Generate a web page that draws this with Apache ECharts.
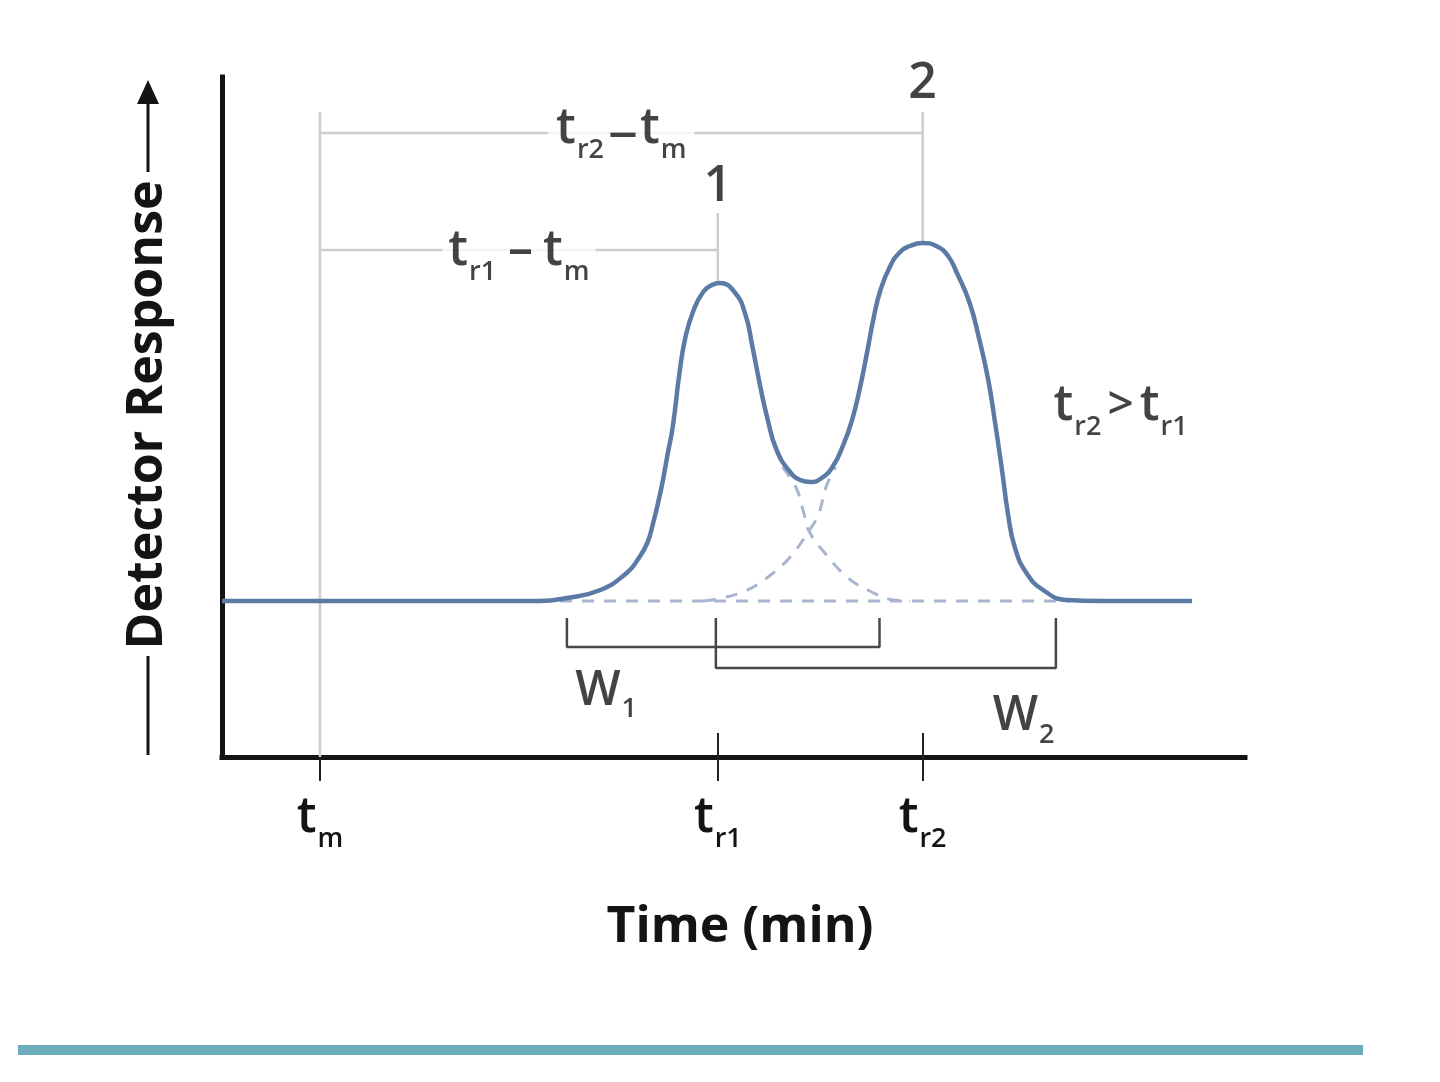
<!DOCTYPE html>
<html>
<head>
<meta charset="utf-8">
<title>Chromatogram</title>
<script src="https://cdn.jsdelivr.net/npm/echarts@6/dist/echarts.min.js"></script>
<style>
  html, body { margin: 0; padding: 0; background: #fff; }
  #chart { width: 1440px; height: 1082px; }
</style>
</head>
<body>
<div id="chart"></div>
<script>
// detector trace (time in min, response in arbitrary units)
const traceTime = [0, 3.24, 3.52, 3.86, 4.13, 4.24, 4.34, 4.40, 4.45, 4.50, 4.55, 4.60, 4.67, 4.73, 4.81, 4.91, 5.00, 5.08, 5.23, 5.34, 5.41, 5.49, 5.57, 5.66, 5.79, 5.90, 6.01, 6.12, 6.23, 6.34, 6.43, 6.51, 6.58, 6.65, 6.72, 6.82, 6.92, 7.02, 7.15, 7.29, 7.41, 7.50, 7.63, 7.73, 7.82, 7.89, 7.96, 8.02, 8.09, 8.21, 8.38, 8.62, 8.96, 9.90];
const traceResponse = [15.6, 15.6, 15.9, 16.7, 18.4, 19.7, 21.4, 23.4, 25.4, 27.7, 30.4, 33.0, 38.5, 42.0, 44.6, 46.5, 47.2, 47.4, 46.5, 44.3, 41.2, 37.2, 33.7, 30.7, 28.6, 27.7, 27.5, 27.9, 29.0, 31.2, 33.7, 36.9, 40.3, 43.9, 46.7, 49.1, 50.5, 51.1, 51.4, 51.1, 50.1, 48.4, 45.4, 41.7, 37.7, 33.4, 28.7, 24.4, 21.0, 18.4, 16.7, 15.7, 15.6, 15.6];

// hidden tails of the two single peaks where they overlap
const peak1TailTime = [5.72, 5.86, 5.94, 5.99, 6.16, 6.39, 6.61, 6.85, 7.02];
const peak1TailResponse = [29.0, 26.9, 24.3, 22.6, 20.3, 17.9, 16.6, 15.7, 15.6];
const peak2TailTime = [4.92, 5.10, 5.34, 5.56, 5.79, 5.99, 6.09, 6.16, 6.26];
const peak2TailResponse = [15.6, 15.9, 16.6, 17.9, 19.9, 22.6, 24.3, 26.9, 29.0];

const baselineLevel = 15.6;
const baselineSpan = [3.45, 8.65];

// tm, tr1, tr2
const markTimes = [1.0, 5.06, 7.15];
const markSubs = ['m', 'r1', 'r2'];
const peakTops = [47.4, 51.4];
const peakNames = ['1', '2'];
const peakWidths = [[3.52, 6.71], [5.04, 8.51]];

const font = "'Open Sans', sans-serif";
const ink = '#141414';

const rich = {
  t: { fontSize: 50, lineHeight: 50, fontWeight: 600, verticalAlign: 'top', fontFamily: font, color: ink },
  s: { fontSize: 27, lineHeight: 27, fontWeight: 600, padding: [33, 0, 0, 1], verticalAlign: 'top', fontFamily: font, color: ink },
  d: { fontSize: 60, lineHeight: 50, fontWeight: 400, verticalAlign: 'top', fontFamily: font, color: ink, padding: [0, 2, 0, 4] },
  ds: { fontSize: 50, lineHeight: 50, fontWeight: 600, verticalAlign: 'top', fontFamily: font, color: ink, padding: [0, 10, 0, 12] },
  g: { fontSize: 46, lineHeight: 50, fontWeight: 600, verticalAlign: 'top', fontFamily: font, color: ink, padding: [2, 6, 0, 6] },
  n: { fontSize: 50, lineHeight: 50, fontWeight: 600, fontFamily: font, color: ink },
  w: { fontSize: 48, lineHeight: 48, fontWeight: 600, verticalAlign: 'top', fontFamily: font, color: ink },
  ws: { fontSize: 27, lineHeight: 27, fontWeight: 600, padding: [29, 0, 0, 1], verticalAlign: 'top', fontFamily: font, color: ink }
};

const pairs = (xs, ys) => xs.map((x, i) => [x, ys[i]]);
const [tm, tr1, tr2] = markTimes;

const dashed = { color: '#a7b6ce', width: 3, type: [12, 10] };
const guideStyle = { color: '#cdcdcd', width: 2.5 };
const bracketStyle = { color: '#474747', width: 2.5 };

function path(name, data, lineStyle, z) {
  return {
    name, type: 'line', data, symbol: 'none', silent: true, z,
    lineStyle, animation: false
  };
}

const chart = echarts.init(document.getElementById('chart'));

const annotations = [
  { value: [(tm + tr2) / 2, 62.85], label: { formatter: '{t|t}{s|r2}{d|–}{t|t}{s|m}', backgroundColor: '#fff', padding: [0, 8] } },
  { value: [(tm + tr1) / 2, 50.65], label: { formatter: '{t|t}{s|r1}{ds|–}{t|t}{s|m}', backgroundColor: '#fff', padding: [0, 6] } },
  { value: [tr1, 57.0], label: { formatter: '{n|' + peakNames[0] + '}' } },
  { value: [tr2, 67.3], label: { formatter: '{n|' + peakNames[1] + '}' } },
  { value: [9.17, 35.15], label: { formatter: '{t|t}{s|r2}{g|>}{t|t}{s|r1}' } },
  { value: [3.92, 6.6], label: { formatter: '{w|W}{ws|1}' } },
  { value: [8.18, 4.04], label: { formatter: '{w|W}{ws|2}' } }
];

chart.setOption({
  backgroundColor: '#fff',
  animation: false,
  grid: { left: 222, top: 77, width: 1023, height: 680, outerBoundsMode: 'none' },
  xAxis: [
    {
      type: 'value', min: 0, max: 10.44,
      name: 'Time (min)', nameLocation: 'middle', nameGap: 146,
      nameTextStyle: { fontSize: 50, fontWeight: 'bold', fontFamily: font, color: ink, padding: [0, 0, 0, 13] },
      axisLine: { show: true, lineStyle: { color: ink, width: 5, cap: 'square' } },
      axisTick: { show: true, customValues: markTimes, length: 24, lineStyle: { color: '#222', width: 2 } },
      axisLabel: {
        show: true, customValues: markTimes, margin: 36, rich,
        formatter: v => {
          const i = markTimes.findIndex(m => Math.abs(m - v) < 1e-6);
          return '{t|t}{s|' + markSubs[i] + '}';
        }
      },
      splitLine: { show: false }
    },
    {
      type: 'value', min: 0, max: 10.44, position: 'bottom',
      axisLine: { show: false },
      axisTick: { show: true, inside: true, customValues: markTimes, length: 24, lineStyle: { color: '#222', width: 2 } },
      axisLabel: { show: false },
      splitLine: { show: false }
    }
  ],
  yAxis: {
    type: 'value', min: 0, max: 68,
    axisLine: { show: true, lineStyle: { color: ink, width: 5, cap: 'square' } },
    axisTick: { show: false },
    axisLabel: { show: false },
    splitLine: { show: false }
  },
  graphic: [
    {
      type: 'text', x: 148, y: 415, rotation: Math.PI / 2,
      style: { text: 'Detector Response', fontSize: 50, fontWeight: 'bold', fontFamily: font, fill: ink, align: 'center', verticalAlign: 'middle' }
    },
    { type: 'line', shape: { x1: 148, y1: 656, x2: 148, y2: 755 }, style: { stroke: ink, lineWidth: 3 } },
    { type: 'line', shape: { x1: 148, y1: 100, x2: 148, y2: 172 }, style: { stroke: ink, lineWidth: 3 } },
    { type: 'polygon', shape: { points: [[148, 80], [137, 104], [159, 104]] }, style: { fill: ink } },
    { type: 'rect', shape: { x: 18, y: 1045, width: 1345, height: 10 }, style: { fill: '#6badbb' } }
  ],
  series: [
    // guides from tm to each retention time
    path('tm guide', [[tm, 0], [tm, 64.5]], guideStyle, 1),
    path('tr2 - tm', [[tm, 62.4], [tr2, 62.4]], guideStyle, 1),
    path('tr2 guide', [[tr2, 64.5], [tr2, peakTops[1]]], guideStyle, 1),
    path('tr1 - tm', [[tm, 50.7], [tr1, 50.7]], guideStyle, 1),
    path('tr1 guide', [[tr1, 54.4], [tr1, peakTops[0]]], guideStyle, 1),
    // dashed baseline and single-peak tails
    path('baseline', [[baselineSpan[0], baselineLevel], [baselineSpan[1], baselineLevel]], dashed, 2),
    Object.assign(path('peak 1 tail', pairs(peak1TailTime, peak1TailResponse), dashed, 2), { smooth: 0.4 }),
    Object.assign(path('peak 2 tail', pairs(peak2TailTime, peak2TailResponse), dashed, 2), { smooth: 0.4 }),
    // peak width brackets
    path('W1', [[peakWidths[0][0], 13.9], [peakWidths[0][0], 11.0], [peakWidths[0][1], 11.0], [peakWidths[0][1], 13.9]], bracketStyle, 3),
    path('W2', [[peakWidths[1][0], 13.9], [peakWidths[1][0], 8.9], [peakWidths[1][1], 8.9], [peakWidths[1][1], 13.9]], bracketStyle, 3),
    // detector trace
    Object.assign(path('trace', pairs(traceTime, traceResponse), { color: '#5b7ba6', width: 4.5 }, 5), { smooth: 0.5 }),
    {
      name: 'labels', type: 'scatter', symbolSize: 1, silent: true, z: 6,
      itemStyle: { color: 'rgba(0,0,0,0)' },
      label: { show: true, position: 'inside', rich, color: ink },
      data: annotations
    }
  ]
});

window.addEventListener('resize', () => chart.resize());
</script>
</body>
</html>
